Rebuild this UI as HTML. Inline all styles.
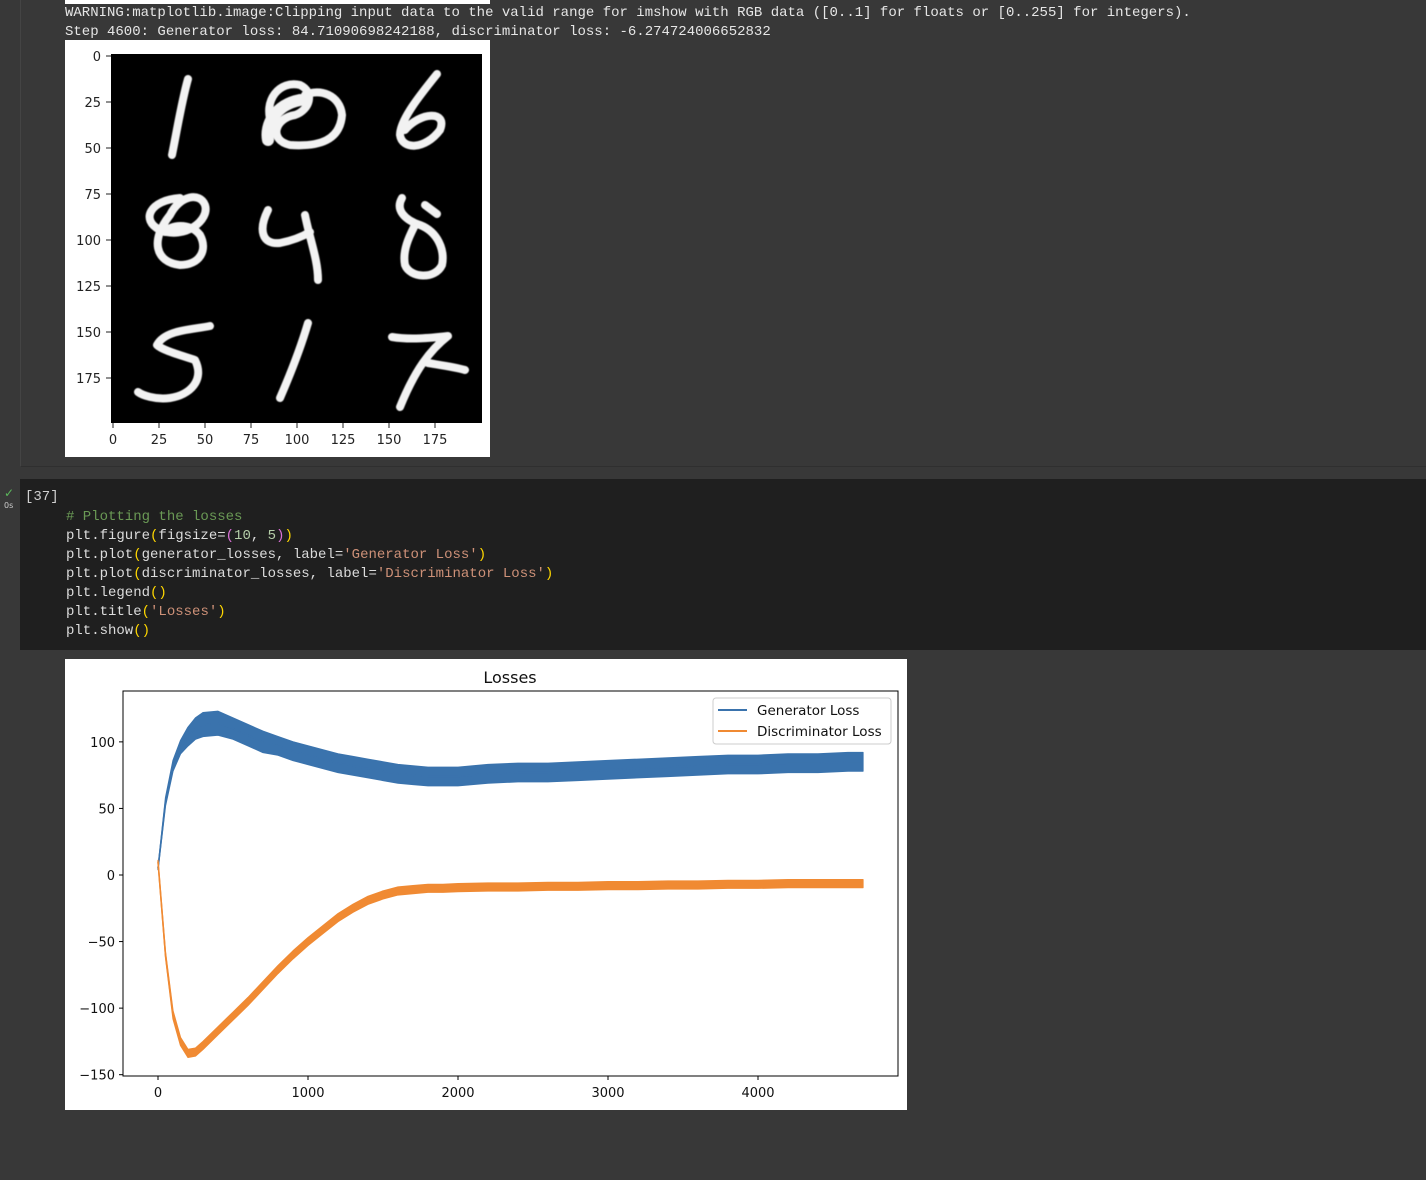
<!DOCTYPE html>
<html><head><meta charset="utf-8"><style>
html,body{margin:0;padding:0;width:1426px;height:1180px;overflow:hidden;background:#383838;}
body{position:relative;font-family:"Liberation Mono","DejaVu Sans Mono",monospace;}
.mono{position:absolute;font-size:14px;color:#e6e6e6;white-space:pre;line-height:19px;}
.sans{font-family:"DejaVu Sans","Liberation Sans",sans-serif;}
</style></head><body>
<div style="position:absolute;left:20px;top:0;width:1406px;height:466px;border-left:1px solid #444;border-bottom:1px solid #2f2f2f;"></div>
<div style="position:absolute;left:65px;top:0;width:425px;height:4px;background:#fff;"></div>
<div class="mono" style="left:65px;top:4px;">WARNING:matplotlib.image:Clipping input data to the valid range for imshow with RGB data ([0..1] for floats or [0..255] for integers).
Step 4600: Generator loss: 84.71090698242188, discriminator loss: -6.274724006652832</div>

<svg style="position:absolute;left:65px;top:40px" width="425" height="417">
<rect width="425" height="417" fill="#fff"/>
<g transform="translate(-65,-40)" class="sans">
<rect x="111" y="54" width="371" height="369" fill="#000"/>
<g fill="none" stroke="#f2f2f2" stroke-linecap="round" stroke-linejoin="round" stroke-width="8" style="filter:blur(0.6px)">
<path d="M188,79 C182,100 178,125 172,155"/>
<path d="M272,125 C262,100 280,80 300,85 C315,92 310,110 295,115 C275,118 268,140 290,145 C320,147 340,140 342,115 C340,95 320,88 305,95"/>
<path d="M268,140 C265,125 275,105 300,100" stroke-width="12"/>
<path d="M437,74 C420,95 400,120 400,135 C402,150 425,150 440,130 C448,110 420,112 405,130"/>
<path d="M180,198 C150,200 140,220 160,230 C185,240 210,220 205,205 C200,192 180,195 170,215 C150,240 155,262 180,265 C200,265 208,250 200,235 C190,222 170,225 165,232"/>
<path d="M268,210 C258,230 262,245 280,243 C295,240 305,235 310,232 M305,215 C310,240 318,260 318,280"/>
<path d="M402,198 C395,210 405,220 420,225 C438,232 445,250 442,265 C435,280 410,278 405,265 C402,250 410,235 415,225 M425,205 L437,214"/>
<path d="M210,326 C190,330 165,330 157,345 C162,350 180,355 195,360 C205,380 190,395 170,398 C155,400 142,395 138,392"/>
<path d="M308,323 C300,350 290,375 280,398"/>
<path d="M392,337 C410,340 430,338 448,336 C430,350 415,370 400,407 M428,363 C440,365 455,367 465,370"/>
</g>
<g font-size="13" fill="#222">
<g text-anchor="end">
<text x="101" y="61">0</text><text x="101" y="107">25</text><text x="101" y="153">50</text><text x="101" y="199">75</text><text x="101" y="245">100</text><text x="101" y="291">125</text><text x="101" y="337">150</text><text x="101" y="383">175</text></g>
<g stroke="#222"><line x1="106" x2="111" y1="56" y2="56"/><line x1="106" x2="111" y1="102" y2="102"/><line x1="106" x2="111" y1="148" y2="148"/><line x1="106" x2="111" y1="194" y2="194"/><line x1="106" x2="111" y1="240" y2="240"/><line x1="106" x2="111" y1="286" y2="286"/><line x1="106" x2="111" y1="332" y2="332"/><line x1="106" x2="111" y1="378" y2="378"/>
<line y1="423" y2="428" x1="113" x2="113"/><line y1="423" y2="428" x1="159" x2="159"/><line y1="423" y2="428" x1="205" x2="205"/><line y1="423" y2="428" x1="251" x2="251"/><line y1="423" y2="428" x1="297" x2="297"/><line y1="423" y2="428" x1="343" x2="343"/><line y1="423" y2="428" x1="389" x2="389"/><line y1="423" y2="428" x1="435" x2="435"/></g>
<g text-anchor="middle"><text x="113" y="444">0</text><text x="159" y="444">25</text><text x="205" y="444">50</text><text x="251" y="444">75</text><text x="297" y="444">100</text><text x="343" y="444">125</text><text x="389" y="444">150</text><text x="435" y="444">175</text></g>
</g></g></svg>

<div style="position:absolute;left:20px;top:479px;width:1406px;height:171px;background:#1f1f1f;"></div>
<div style="position:absolute;left:4px;top:486px;color:#5cb85c;font-size:12px;font-family:'DejaVu Sans',sans-serif;">✓</div>
<div style="position:absolute;left:4px;top:501px;color:#ccc;font-size:8px;font-family:'DejaVu Sans',sans-serif;">0s</div>
<div class="mono" style="left:25px;top:488px;color:#d0d0d0;">[37]</div>
<div class="mono" style="left:66px;top:508px;color:#dcdcdc;"><span style="color:#6a9955"># Plotting the losses</span>
plt.figure<span style="color:#ffd700">(</span>figsize=<span style="color:#da70d6">(</span><span style="color:#b5cea8">10</span>, <span style="color:#b5cea8">5</span><span style="color:#da70d6">)</span><span style="color:#ffd700">)</span>
plt.plot<span style="color:#ffd700">(</span>generator_losses, label=<span style="color:#ce9178">'Generator Loss'</span><span style="color:#ffd700">)</span>
plt.plot<span style="color:#ffd700">(</span>discriminator_losses, label=<span style="color:#ce9178">'Discriminator Loss'</span><span style="color:#ffd700">)</span>
plt.legend<span style="color:#ffd700">()</span>
plt.title<span style="color:#ffd700">(</span><span style="color:#ce9178">'Losses'</span><span style="color:#ffd700">)</span>
plt.show<span style="color:#ffd700">()</span></div>

<svg id="chart" style="position:absolute;left:65px;top:659px" width="842" height="451">
<rect width="842" height="451" fill="#fff"/>
<g id="g" transform="translate(-65,-659)" class="sans"></g>
</svg>

<script>
const steps = [0,50,100,150,200,250,300,400,500,600,700,800,900,1000,1100,1200,1300,1400,1500,1600,1700,1800,1900,2000,2200,2400,2600,2800,3000,3200,3400,3600,3800,4000,4200,4400,4600,4700];
const genLoss = [5,55,82,96,104,110,113,114,110,105,100,97,93,90,87,84,82,80,78,76,75,74,74,74,76,77,77,78,79,80,81,82,83,83,84,84,85,85];
const genNoise = [1,3,4,5,7,8,9,9,8,8,8,7,7,7,7,7,7,7,7,7,7,7,7,7,7,7,7,7,7,7,7,7,7,7,7,7,7,7];
const discLoss = [10,-60,-105,-125,-134,-133,-128,-117,-106,-95,-83,-71,-60,-50,-41,-32,-25,-19,-15,-12,-11,-10,-10,-9.5,-9,-9,-8.5,-8.5,-8,-8,-7.5,-7.5,-7,-7,-6.5,-6.5,-6.5,-6.5];
const discNoise = [1,2,3,3,3,3,3,3,3,3,3,3,3,3,3,3,3,3,3,3,3,3,3,3,3,3,3,3,3,3,3,3,3,3,3,3,3,3];
const xTicks = [0,1000,2000,3000,4000];
const yTicks = [-150,-100,-50,0,50,100];
const seriesNames = ['Generator Loss','Discriminator Loss'];

const NS='http://www.w3.org/2000/svg';
const g=document.getElementById('g');
const L=123,R=898,T=691,B=1076;
const xs=v=>158+v*0.15;
const ys=v=>875-v*1.3313;
function el(t,a){const e=document.createElementNS(NS,t);for(const k in a)e.setAttribute(k,a[k]);g.appendChild(e);return e;}

const title=el('text',{x:510,y:683,'text-anchor':'middle','font-size':16,fill:'#111'});


title.textContent='Losses';

function band(vals,noise,color,name){
  let up=steps.map((s,i)=>xs(s)+','+ys(vals[i]+noise[i]));
  let dn=steps.map((s,i)=>xs(s)+','+ys(vals[i]-noise[i])).reverse();
  const p=el('polygon',{points:up.concat(dn).join(' '),fill:color,stroke:color,'stroke-width':1.2,'stroke-linejoin':'round'});
  
  
  const l=el('polyline',{points:steps.map((s,i)=>xs(s)+','+ys(vals[i])).join(' '),fill:'none',stroke:color,'stroke-width':1.6});
  
  
}
band(genLoss,genNoise,'#3a73ad','generator-loss');
band(discLoss,discNoise,'#f08a33','discriminator-loss');

const frame=el('rect',{x:L,y:T,width:R-L,height:B-T,fill:'none',stroke:'#000','stroke-width':1});



xTicks.forEach(v=>{
  const tk=el('line',{x1:xs(v),x2:xs(v),y1:B,y2:B+4,stroke:'#000'});
  
  
  const t=el('text',{x:xs(v),y:B+21,'text-anchor':'middle','font-size':13,fill:'#111'});
  
  
  t.textContent=String(v);
});
yTicks.forEach(v=>{
  const tk=el('line',{x1:L-4,x2:L,y1:ys(v),y2:ys(v),stroke:'#000'});
  
  
  const t=el('text',{x:L-8,y:ys(v)+5,'text-anchor':'end','font-size':13,fill:'#111'});
  
  
  t.textContent=v<0?'\u2212'+Math.abs(v):String(v);
});

const lg=el('rect',{x:713,y:698,width:178,height:46,rx:3,fill:'#fff',stroke:'#ccc'});


['#3a73ad','#f08a33'].forEach((c,i)=>{
  const ln=el('line',{x1:718,x2:747,y1:710+i*21,y2:710+i*21,stroke:c,'stroke-width':2});
  
  
  const t=el('text',{x:757,y:715+i*21,'font-size':13.5,fill:'#111'});
  
  
  t.textContent=seriesNames[i];
});
</script>
</body></html>
